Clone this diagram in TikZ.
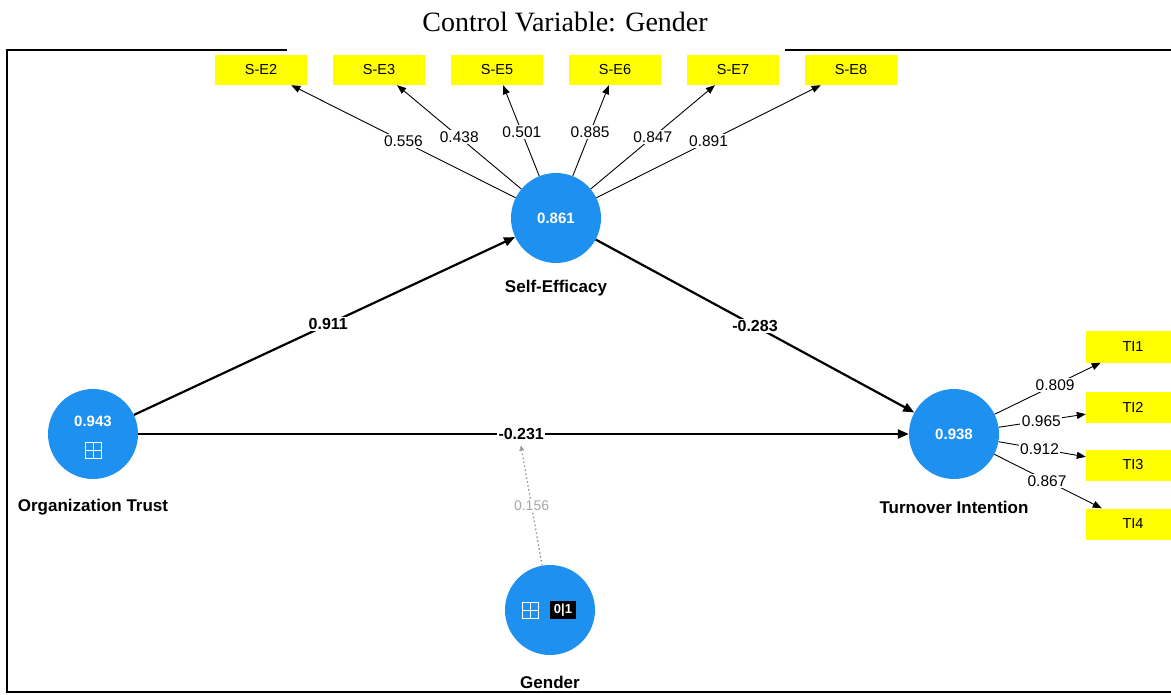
\documentclass[tikz,border=0pt]{standalone}
\usepackage{fontspec}
\setmainfont{Liberation Sans}
\newfontfamily\titlefont{Liberation Serif}
\usetikzlibrary{arrows.meta}
\definecolor{lvblue}{RGB}{30,144,240}
\definecolor{indyellow}{RGB}{255,255,0}
\definecolor{ctrlgray}{RGB}{150,140,130}
\begin{document}
\begin{tikzpicture}[x=1pt,y=-1pt,
  lv/.style={circle,fill=lvblue,minimum size=90pt,inner sep=0pt,text=white,font=\bfseries\fontsize{15}{17}\selectfont},
  ind/.style={rectangle,fill=indyellow,minimum width=92pt,minimum height=30pt,inner sep=0pt,font=\fontsize{14.5}{16}\selectfont},
  lvlabel/.style={font=\bfseries\fontsize{17}{19}\selectfont},
  structpath/.style={line width=2.2pt,-{Triangle[length=11pt,width=9pt]}},
  loadpath/.style={line width=0.9pt,-{Triangle[length=9pt,width=7pt]}},
  coef/.style={fill=white,inner sep=1.5pt,font=\bfseries\fontsize{16}{18}\selectfont},
  load/.style={fill=white,inner sep=1.5pt,font=\fontsize{15.5}{17}\selectfont},
  ctrl/.style={ctrlgray,line width=1.2pt,dash pattern=on 1.5pt off 2.5pt,-{To[length=5pt,width=5pt]}},
  ctrllabel/.style={fill=white,inner sep=1pt,text=gray!70,font=\fontsize{14}{16}\selectfont},
  icon/.style={draw=white,line width=1pt,minimum size=16pt,inner sep=0pt,
    path picture={\draw[white,line width=0.9pt] (path picture bounding box.north) -- (path picture bounding box.south)
      (path picture bounding box.west) -- (path picture bounding box.east);}},
  frame/.style={line width=2pt,black}
]
\useasboundingbox (0,0) rectangle (1171,695);
\clip (0,0) rectangle (1171,695);

% title
\node[font=\titlefont\fontsize{28}{30}\selectfont] (title) at (565,22) {Control Variable: Gender};

% frame
\draw[frame] (287,50) -- (7,50) -- (7,692) -- (1175,692);
\draw[frame] (785,50) -- (1175,50);

% indicators
\node[ind] (se2) at (261,70) {S-E2};
\node[ind] (se3) at (379,70) {S-E3};
\node[ind] (se5) at (497,70) {S-E5};
\node[ind] (se6) at (615,70) {S-E6};
\node[ind] (se7) at (733,70) {S-E7};
\node[ind] (se8) at (851,70) {S-E8};

\node[ind,minimum width=94pt,minimum height=31pt] (ti1) at (1133,347) {TI1};
\node[ind,minimum width=94pt,minimum height=31pt] (ti2) at (1133,407) {TI2};
\node[ind,minimum width=94pt,minimum height=31pt] (ti3) at (1133,465) {TI3};
\node[ind,minimum width=94pt,minimum height=31pt] (ti4) at (1133,524) {TI4};

% latent variables
\node[lv] (se) at (556,218) {0.861};
\node[lv] (ot) at (93,434) {};
\node[lv] (ti) at (954,434) {0.938};
\node[lv] (gen) at (550,610) {};

\node[text=white,font=\bfseries\fontsize{15}{17}\selectfont] (otval) at (93,421) {0.943};
\node[icon] (oticon) at (93,450) {};
\node[icon] (genicon) at (530,610) {};
\node[fill=black,text=white,inner sep=2pt,minimum height=18pt,minimum width=26pt,font=\bfseries\fontsize{13}{15}\selectfont] (genval) at (563,610) {0|1};

\node[lvlabel] (selab) at (556,288) {Self-Efficacy};
\node[lvlabel] (otlab) at (93,507) {Organization Trust};
\node[lvlabel] (tilab) at (954,507) {Turnover Intention};
\node[lvlabel] (genlab) at (550,682) {Gender};

% structural paths
\draw[structpath] (ot) -- node[coef,pos=0.51] {0.911} (se);
\draw[structpath] (se) -- node[coef,pos=0.5] {-0.283} (ti);
\draw[structpath] (ot) -- node[coef,pos=0.497] (c231) {-0.231} (ti);

% control effect
\coordinate (gtarget) at (521,446);
\draw[ctrl] (gen) -- node[ctrllabel,pos=0.5] {0.156} (gtarget);

% outer loadings self-efficacy
\draw[loadpath] (se) -- node[load,pos=0.5] {0.556} (se2);
\draw[loadpath] (se) -- node[load,pos=0.5] {0.438} (se3);
\draw[loadpath] (se) -- node[load,pos=0.48] {0.501} (se5);
\draw[loadpath] (se) -- node[load,pos=0.48] {0.885} (se6);
\draw[loadpath] (se) -- node[load,pos=0.5] {0.847} (se7);
\draw[loadpath] (se) -- node[load,pos=0.5] {0.891} (se8);

% outer loadings turnover intention
\draw[loadpath] (ti) -- node[load,pos=0.57] {0.809} (ti1);
\draw[loadpath] (ti) -- node[load,pos=0.49] {0.965} (ti2);
\draw[loadpath] (ti) -- node[load,pos=0.47] {0.912} (ti3);
\draw[loadpath] (ti) -- node[load,pos=0.49] {0.867} (ti4);
\end{tikzpicture}
\end{document}
